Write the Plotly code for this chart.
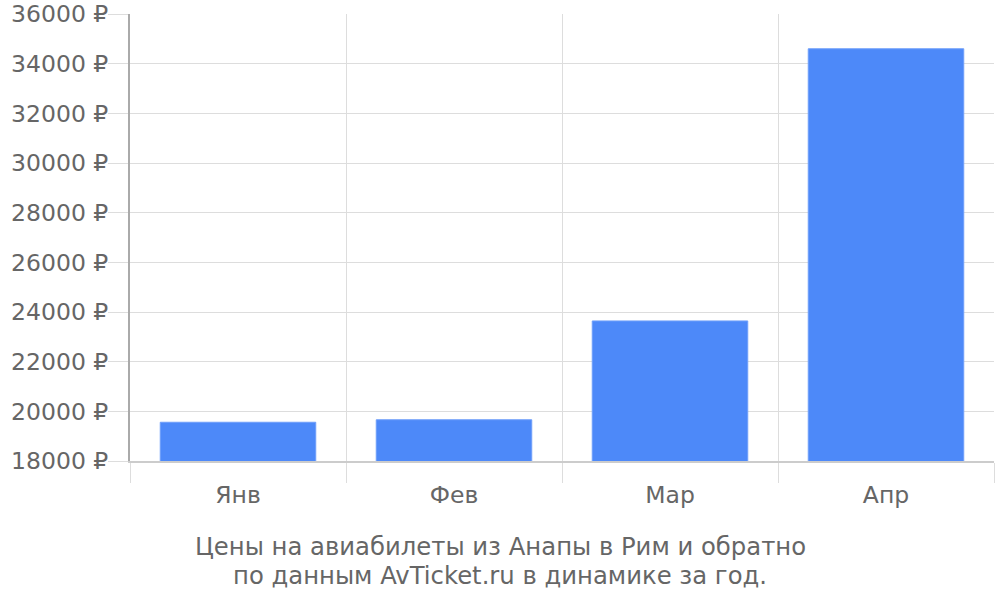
import plotly.graph_objects as go

months = ["Янв", "Фев", "Мар", "Апр"]
prices = [19560, 19660, 23640, 34600]
y_ticks = [18000, 20000, 22000, 24000, 26000, 28000, 30000, 32000, 34000, 36000]
title_lines = ["Цены на авиабилеты из Анапы в Рим и обратно",
               "по данным AvTicket.ru в динамике за год."]

FONT = "DejaVu Sans"
L, R, T, B = 130, 6, 14, 139
PW, PH = 1000 - L - R, 600 - T - B

fig = go.Figure(go.Bar(
    x=months, y=prices,
    marker=dict(color="#4d89f9", line=dict(color="#6f9ffa", width=1)),
    width=0.72,
))
fig.update_layout(
    width=1000, height=600,
    margin=dict(l=L, r=R, t=T, b=B),
    paper_bgcolor="white", plot_bgcolor="white",
    showlegend=False,
    font=dict(family=FONT, size=23.5, color="#666666"),
    xaxis=dict(
        automargin=False,
        tickson="boundaries", ticks="outside", ticklen=20, tickcolor="#dddddd",
        showgrid=True, gridcolor="#dddddd", gridwidth=1,
        showline=True, linecolor="#cccccc", linewidth=2,
        tickfont=dict(family=FONT, size=23.5, color="#666666"),
        ticklabelstandoff=12,
        range=[-0.5, 3.5],
    ),
    yaxis=dict(
        automargin=False,
        range=[18000, 36000], tickvals=y_ticks,
        ticktext=[f"{v} ₽" for v in y_ticks],
        ticks="outside", ticklen=20, tickcolor="#dddddd",
        showgrid=True, gridcolor="#dddddd", gridwidth=1,
        showline=True, linecolor="#aaaaaa", linewidth=2,
        zeroline=False,
        ticklabelstandoff=-5,
        tickfont=dict(family=FONT, size=23.5, color="#666666"),
    ),
)
for i, line in enumerate(title_lines):
    yc = 546 + 29 * i
    fig.add_annotation(
        text=line, xref="paper", yref="paper",
        x=(500 - L) / PW, y=(600 - B - yc) / PH, xanchor="center", yanchor="middle",
        showarrow=False, align="center",
        font=dict(family=FONT, size=24.3, color="#666666"),
    )
fig.write_html("out.html", config={"displayModeBar": False},
               post_script="document.body.style.margin='0';")
